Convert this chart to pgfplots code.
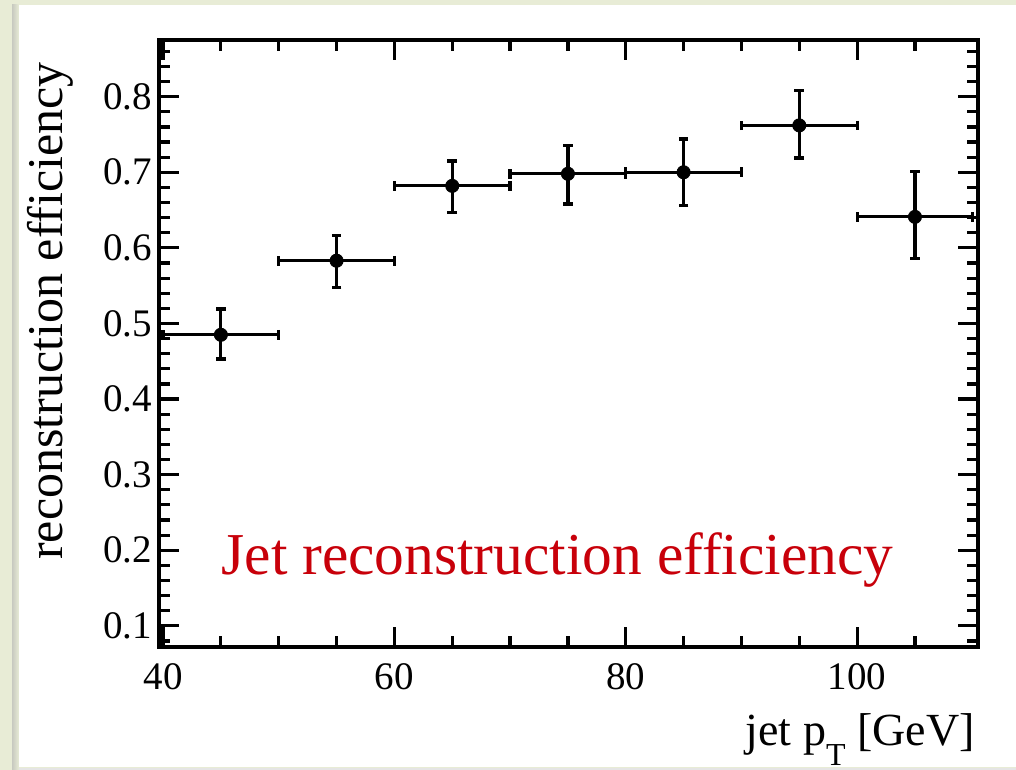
\documentclass[border=0pt]{standalone}
\usepackage{pgfplots}
\pgfplotsset{compat=1.18}
\usepackage{pgfplotstable}
\usepackage{fontspec}
\setmainfont{Liberation Serif}
\definecolor{bgframe}{RGB}{232,236,214}
\definecolor{titlered}{RGB}{200,0,10}
\pgfplotstableread{
x y ex eyp eym
45 0.485 5 0.034 0.032
55 0.583 5 0.033 0.035
65 0.682 5 0.033 0.035
75 0.698 5 0.037 0.040
85 0.700 5 0.044 0.044
95 0.762 5 0.046 0.043
105 0.641 5 0.060 0.055
}\effdata
\begin{document}
\begin{tikzpicture}
\fill[bgframe] (0,0) rectangle (508pt,385pt);
\shade[left color=bgframe!70!black!60, right color=bgframe] (6pt,0pt) rectangle (9.5pt,382.5pt);
\fill[white] (9.5pt,1.5pt) rectangle (508pt,382.5pt);
\fill[black!10] (9.5pt,0pt) rectangle (508pt,1.2pt);
\useasboundingbox (0,0) rectangle (508pt,385pt);
\begin{axis}[
  at={(79.5pt,61.5pt)}, anchor=south west,
  scale only axis, width=409.5pt, height=303.5pt,
  xmin=39.65, xmax=110.45, ymin=0.072, ymax=0.875,
  xtick={40,60,80,100},
  minor xtick={45,50,55,65,70,75,85,90,95,105},
  ytick={0.1,0.2,0.3,0.4,0.5,0.6,0.7,0.8},
  minor ytick={0.08,0.12,0.14,0.16,0.18,0.22,0.24,0.26,0.28,0.32,0.34,0.36,0.38,0.42,0.44,0.46,0.48,0.52,0.54,0.56,0.58,0.62,0.64,0.66,0.68,0.72,0.74,0.76,0.78,0.82,0.84,0.86},
  yticklabel style={/pgf/number format/fixed,/pgf/number format/precision=1},
  /pgf/number format/assume math mode=true,
  tick label style={font=\fontsize{19.5}{19.5}\selectfont},
  xticklabel style={anchor=base,yshift=-21.5pt},
  major tick length=10pt, minor tick length=5.5pt,
  every tick/.style={black,line width=1.6pt},
  axis line style={line width=2pt},
  tick align=inside,
  clip=false,
]
\addplot[black, draw=none, mark=*, mark size=3.3pt,
  error bars/.cd, x dir=both, x explicit, y dir=both, y explicit,
  error mark=|,
  error bar style={draw=black, solid, line width=1.6pt},
  error mark options={draw=black, solid, line width=1.6pt, mark size=2.4pt}]
  table[x=x, y=y, x error=ex, y error plus=eyp, y error minus=eym] {\effdata};
\end{axis}
\node[rotate=90, anchor=south, inner sep=0pt, font=\fontsize{25}{25}\selectfont] at (37pt,229.5pt) {reconstruction efficiency};
\node[anchor=base east, inner sep=0pt, font=\fontsize{23}{23}\selectfont] at (487.5pt,12.5pt) {jet p\raisebox{-0.45em}{\fontsize{16}{16}\selectfont T} [GeV]};
\node[anchor=base, inner sep=0pt, text=titlered, font=\fontsize{29.7}{29.7}\selectfont] at (278.75pt,97.5pt) {Jet reconstruction efficiency};
\end{tikzpicture}
\end{document}
